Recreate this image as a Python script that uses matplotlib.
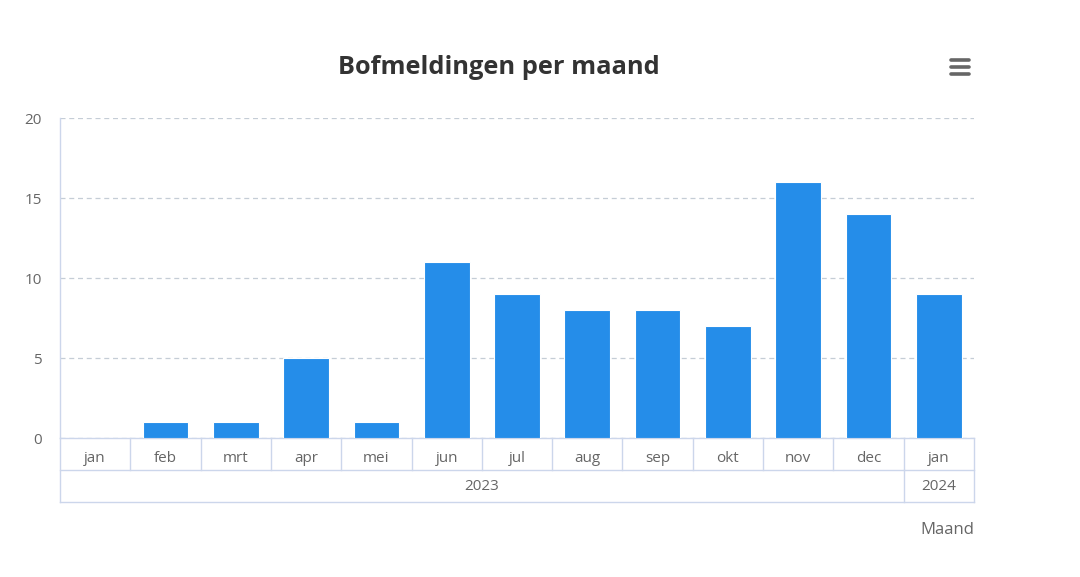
import matplotlib as mpl
mpl.use('Agg')
import matplotlib.pyplot as plt
from matplotlib.lines import Line2D

plt.rcParams['font.family'] = ['Open Sans', 'DejaVu Sans']

# data
months = ['jan', 'feb', 'mrt', 'apr', 'mei', 'jun', 'jul', 'aug', 'sep', 'okt', 'nov', 'dec', 'jan']
counts = [0, 1, 1, 5, 1, 11, 9, 8, 8, 7, 16, 14, 9]
years = ['2023', '2024']
months_per_year = [12, 1]

bar_color = '#258de9'
line_color = '#ccd6eb'
text_color = '#666666'

fig = plt.figure(figsize=(10.8, 5.77), dpi=100)
ax = fig.add_axes([60 / 1080, 139 / 577, 914 / 1080, 320 / 577])

x = list(range(len(months)))
ax.bar(x, counts, width=0.65, color=bar_color, edgecolor='white', linewidth=0.8, zorder=3)

ax.set_xlim(-0.5, len(months) - 0.5)
ax.set_ylim(0, 20)
ax.set_yticks([0, 5, 10, 15, 20])
ax.tick_params(axis='y', length=0, pad=13, labelsize=11, labelcolor=text_color)
ax.set_xticks([])

# dashed grid
ax.yaxis.grid(True, color='#c5cdd6', linestyle=(0, (4, 3)), linewidth=0.9)
ax.set_axisbelow(True)

for side in ['top', 'right', 'bottom']:
    ax.spines[side].set_visible(False)
ax.spines['left'].set_color(line_color)
ax.spines['left'].set_linewidth(1)

# category table below the plot
trans = ax.get_xaxis_transform()
row = 0.1
x0, x1 = -0.5, len(months) - 0.5
for yy in [0, -row, -2 * row]:
    ax.add_line(Line2D([x0, x1], [yy, yy], transform=trans, color=line_color, lw=1, clip_on=False))
ax.add_line(Line2D([x0, x0], [0, -2 * row], transform=trans, color=line_color, lw=1, clip_on=False))
ax.add_line(Line2D([x1, x1], [0, -2 * row], transform=trans, color=line_color, lw=1, clip_on=False))

# month row
for i, m in enumerate(months):
    ax.text(i, -0.065, m, transform=trans, ha='center', va='center', fontsize=11, color=text_color)
    if i > 0:
        ax.add_line(Line2D([i - 0.5, i - 0.5], [0, -row], transform=trans, color=line_color, lw=1, clip_on=False))

# year row
start = -0.5
for k, (yr, n) in enumerate(zip(years, months_per_year)):
    end = start + n
    ax.text((start + end) / 2, -1.5 * row, yr, transform=trans, ha='center', va='center', fontsize=11, color=text_color)
    if k > 0:
        ax.add_line(Line2D([start, start], [-row, -2 * row], transform=trans, color=line_color, lw=1, clip_on=False))
    start = end

# axis title
fig.text(974 / 1080, 1 - 530 / 577, 'Maand', ha='right', va='center', fontsize=12, color=text_color)

# chart title
fig.text(499 / 1080, 1 - 68 / 577, 'Bofmeldingen per maand', ha='center', va='center',
         fontsize=18.3, fontweight='bold', color='#333333')

# menu icon
for yy in [60, 67, 74]:
    fig.add_artist(Line2D([951 / 1080, 969 / 1080], [1 - yy / 577, 1 - yy / 577],
                          color='#666666', lw=2.6, solid_capstyle='round'))

fig.savefig('out.png', dpi=100)
